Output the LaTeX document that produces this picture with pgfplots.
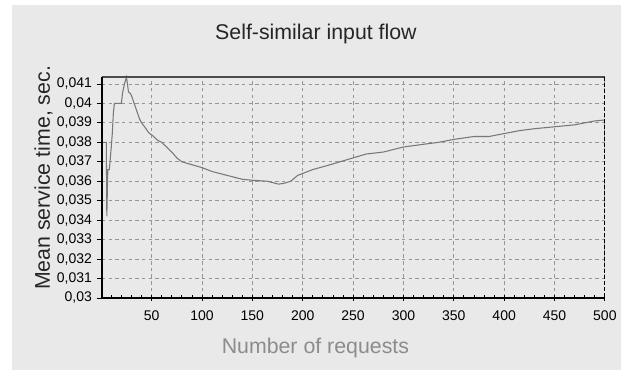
\documentclass[border=0pt]{standalone}
\usepackage{pgfplots}
\pgfplotsset{compat=1.18}
\usepackage{fontspec}
\setmainfont{Liberation Sans}
\definecolor{panel}{RGB}{233,233,233}
\definecolor{gridc}{RGB}{150,150,150}
\definecolor{linec}{RGB}{120,120,120}
\begin{document}
\begin{tikzpicture}
\fill[white] (0pt,0pt) rectangle (465.75pt,277.5pt);
\fill[panel] (9pt,0pt) rectangle (465.75pt,273.75pt);
\begin{axis}[
  at={(76.5pt,54pt)}, anchor=south west,
  scale only axis, width=377.25pt, height=165.75pt,
  xmin=0.7, xmax=500, ymin=0.03, ymax=0.04136,
  xtick={50,100,...,500},
  ytick={0.030,0.031,0.032,0.033,0.034,0.035,0.036,0.037,0.038,0.039,0.040,0.041},
  extra x ticks={10,20,30,40,60,70,80,90,110,120,130,140,160,170,180,190,210,220,230,240,260,270,280,290,310,320,330,340,360,370,380,390,410,420,430,440,460,470,480,490},
  extra x tick labels={},
  extra x tick style={grid=none, tick align=inside, major tick length=2.5pt},
  xtick pos=bottom, ytick pos=left,
  scaled y ticks=false,
  /pgf/number format/assume math mode=true,
  yticklabel style={/pgf/number format/.cd, fixed, precision=3, use comma},
  xticklabel style={yshift=-4pt},
  tick label style={font=\fontsize{10.5}{12}\selectfont, text=black},
  grid=major,
  major grid style={gridc, dash pattern=on 2.6pt off 2.4pt, line width=0.6pt},
  axis line style={draw=none},
  tick style={black, line width=0.6pt},
  major tick length=4pt,
  tick align=outside,
  xtick align=center,
  clip=false,
]
\addplot[linec, line width=0.8pt] coordinates {
(1,0.038)(5,0.038)(5.5,0.0342)(6.5,0.0366)(8,0.0366)(9,0.0372)(10,0.0378)(11,0.0385)(12,0.0395)(13,0.0400)(20,0.0400)(21,0.0405)(23,0.0410)(25,0.04135)(26,0.0410)(27,0.0406)(29,0.0405)(30,0.0404)(32,0.0401)(34,0.0398)(36,0.0395)(38,0.0392)(40,0.0390)(43,0.0388)(47,0.0385)(52,0.0383)(56,0.0381)(60,0.0380)(65,0.03775)(70,0.0375)(75,0.0372)(80,0.0370)(90,0.03685)(100,0.0367)(110,0.0365)(125,0.0363)(140,0.0361)(150,0.03605)(165,0.0360)(176,0.03585)(182,0.0359)(188,0.0360)(195,0.0363)(200,0.0364)(210,0.0366)(224,0.0368)(237,0.0370)(250,0.0372)(263,0.0374)(280,0.0375)(300,0.03776)(320,0.0379)(335,0.0380)(350,0.03815)(370,0.0383)(385,0.0383)(400,0.03845)(415,0.0386)(430,0.0387)(450,0.0388)(470,0.0389)(490,0.0391)(500,0.03915)
};
\draw[black!70, line width=0.8pt] (rel axis cs:0,1) -- (rel axis cs:1,1);
\draw[black, line width=0.8pt, dash pattern=on 3pt off 1.5pt] (rel axis cs:1,1) -- (rel axis cs:1,0);
\draw[black, line width=1.5pt] (rel axis cs:0,0) -- (rel axis cs:1,0);
\draw[black, line width=2.2pt] (rel axis cs:0,0) -- (rel axis cs:0,1);
\end{axis}
\node[anchor=base, text=black!85, font=\fontsize{16}{19}\selectfont] at (237pt,247.5pt) {Self-similar input flow};
\node[anchor=base, text=black!45, font=\fontsize{16}{19}\selectfont] at (236.6pt,12.5pt) {Number of requests};
\node[anchor=base, rotate=90, text=black!85, font=\fontsize{16}{19}\selectfont] at (37.5pt,144pt) {Mean service time, sec.};
\end{tikzpicture}
\end{document}
